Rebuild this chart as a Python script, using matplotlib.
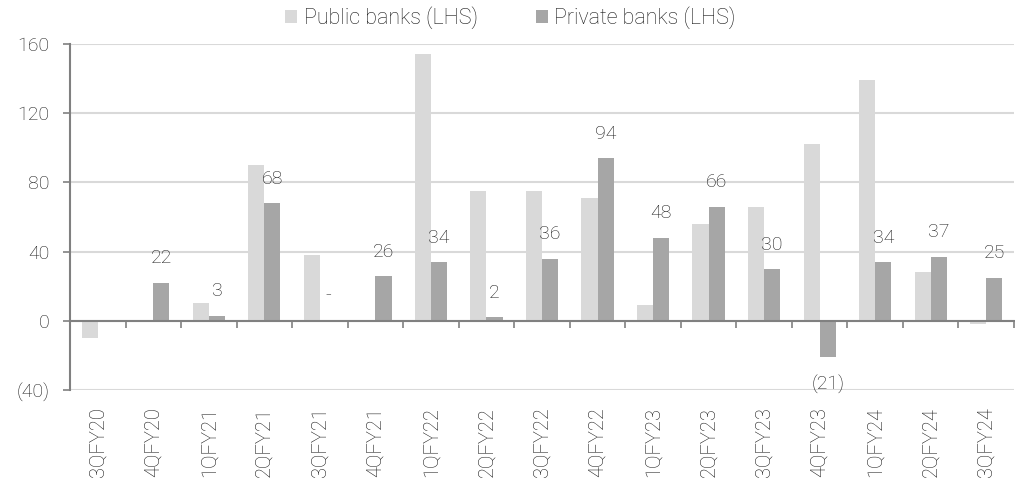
import matplotlib
matplotlib.use("Agg")
import matplotlib.pyplot as plt
import numpy as np

categories = ["3QFY20", "4QFY20", "1QFY21", "2QFY21", "3QFY21", "4QFY21", "1QFY22", "2QFY22",
              "3QFY22", "4QFY22", "1QFY23", "2QFY23", "3QFY23", "4QFY23", "1QFY24", "2QFY24", "3QFY24"]
public_banks = [-10, 0, 10, 90, 38, 0, 154, 75, 75, 71, 9, 56, 66, 102, 139, 28, -2]
private_banks = [np.nan, 22, 3, 68, 0, 26, 34, 2, 36, 94, 48, 66, 30, -21, 34, 37, 25]
y_ticks = [-40, 0, 40, 80, 120, 160]
y_tick_labels = ["(40)", "0", "40", "80", "120", "160"]

plt.rcParams['font.family'] = ['Roboto', 'DejaVu Sans']
plt.rcParams['font.weight'] = 'light'
txt_color = '#1a1a1a'

fig = plt.figure(figsize=(10.15, 4.84), dpi=100)
ax = fig.add_axes([70/1015, 1-390/484, (1014-70)/1015, (390-44)/484])

x = np.arange(len(categories))
w = 0.29
pub_color = '#D9D9D9'
priv_color = '#A6A6A6'
ax.bar(x - w/2, public_banks, width=w, color=pub_color, label='Public banks (LHS)', zorder=2)
ax.bar(x + w/2, private_banks, width=w, color=priv_color, label='Private banks (LHS)', zorder=2)

# labels for private banks
for xi, v in zip(x, private_banks):
    if np.isnan(v):
        continue
    if v == 0:
        s = "-"
    elif v < 0:
        s = f"({abs(int(v))})"
    else:
        s = f"{int(v)}"
    off = 17.5 if v >= 0 else -19.5
    ax.annotate(s, (xi + w/2, v), xytext=(0, off), textcoords='offset points',
                ha='center', va='center', fontsize=14, color=txt_color)

ax.set_ylim(-40, 160)
ax.set_xlim(-0.5, len(categories) - 0.5)
ax.set_yticks(y_ticks)
ax.set_yticklabels(y_tick_labels, fontsize=14, color=txt_color)
ax.tick_params(axis='y', length=5, width=1.2, color='#808080', pad=10)
ax.grid(axis='y', color='#D9D9D9', linewidth=1.5, zorder=0)
ax.set_axisbelow(True)

for s in ['top', 'right']:
    ax.spines[s].set_visible(False)
ax.spines['left'].set_color('#808080')
ax.spines['left'].set_linewidth(1.5)
ax.spines['bottom'].set_position(('data', 0))
ax.spines['bottom'].set_color('#808080')
ax.spines['bottom'].set_linewidth(1.5)
ax.spines['bottom'].set_zorder(3)

ax.set_xticks(np.arange(len(categories) + 1) - 0.5)
ax.set_xticklabels([])
ax.tick_params(axis='x', length=5, width=1.2, color='#808080', direction='out')

sec = ax.secondary_xaxis('bottom')
sec.set_xticks(x)
sec.set_xticklabels(categories, rotation=90, fontsize=14.5, color=txt_color)
sec.tick_params(axis='x', length=0, pad=12)
sec.spines['bottom'].set_visible(False)

fig.legend(loc='center', bbox_to_anchor=(0.503, 1 - 18/484), ncol=2, frameon=False,
           fontsize=15.5, handlelength=0.55, handleheight=0.55, handletextpad=0.3,
           columnspacing=2.7, labelcolor=txt_color)

fig.savefig("out.png", dpi=100)
